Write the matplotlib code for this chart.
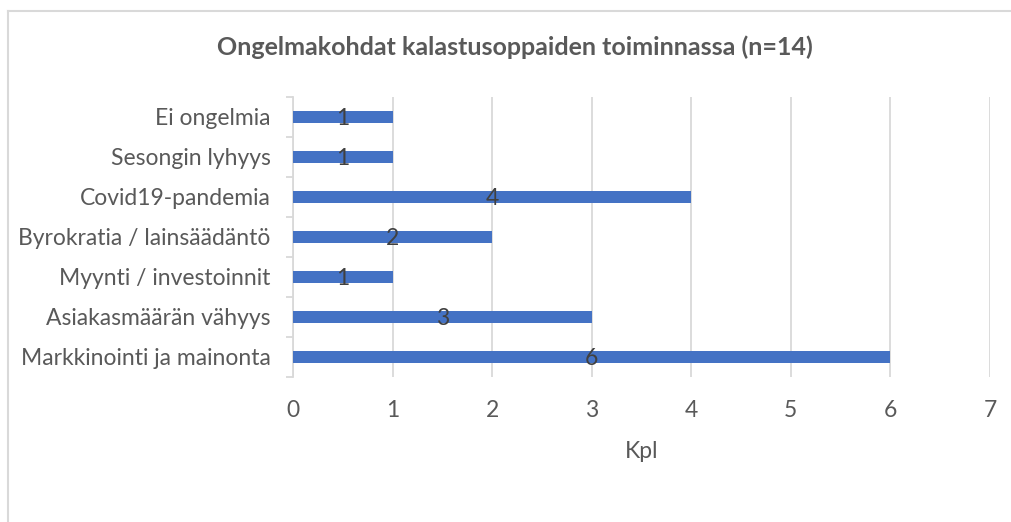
import matplotlib.pyplot as plt
from matplotlib.lines import Line2D

# 数据
kategoriat = ['Markkinointi ja mainonta', 'Asiakasmäärän vähyys', 'Myynti / investoinnit',
              'Byrokratia / lainsäädäntö', 'Covid19-pandemia', 'Sesongin lyhyys', 'Ei ongelmia']
arvot = [6, 3, 1, 2, 4, 1, 1]
x_ticks = [0, 1, 2, 3, 4, 5, 6, 7]
otsikko = 'Ongelmakohdat kalastusoppaiden toiminnassa (n=14)'
x_otsikko = 'Kpl'

plt.rcParams['font.family'] = ['Lato', 'DejaVu Sans']

fig = plt.figure(figsize=(10.11, 5.22), dpi=100)
ax = fig.add_axes([293 / 1011, 1 - 376.5 / 522, 697 / 1011, 280 / 522])

y = range(len(kategoriat))
ax.barh(y, arvot, height=0.3, color='#4472C4', zorder=3)

# 数据标签
for i, v in zip(y, arvot):
    ax.text(v / 2, i - 0.05, str(v), ha='center', va='center', fontsize=16.5, color='#404040', zorder=4)

ax.set_xlim(0, 7)
ax.set_ylim(-0.5, len(kategoriat) - 0.5)
ax.set_xticks(x_ticks)
ax.set_yticks(list(y))
ax.set_yticklabels(kategoriat)
ax.set_yticks([i - 0.5 for i in range(len(kategoriat) + 1)], minor=True)

ax.tick_params(axis='y', which='major', length=0, pad=16, labelsize=16.5, labelcolor='#595959')
ax.tick_params(axis='y', which='minor', length=5, width=1.3, color='#D9D9D9')
ax.tick_params(axis='x', length=0, pad=17, labelsize=16.5, labelcolor='#595959')

ax.grid(axis='x', color='#D9D9D9', lw=1.3, zorder=0)
for s in ['top', 'right', 'bottom']:
    ax.spines[s].set_visible(False)
ax.spines['left'].set_color('#D9D9D9')
ax.spines['left'].set_linewidth(1.3)

ax.set_xlabel(x_otsikko, fontsize=16.5, color='#595959', labelpad=14)
fig.text(515 / 1011, 1 - 47 / 522, otsikko, ha='center', va='center',
         fontsize=18, fontweight='bold', color='#595959')

# 外框
fig.add_artist(Line2D([7.5 / 1011, 7.5 / 1011], [0, 1 - 11 / 522], transform=fig.transFigure, color='#D9D9D9', lw=1.5))
fig.add_artist(Line2D([7.5 / 1011, 1], [1 - 11 / 522, 1 - 11 / 522], transform=fig.transFigure, color='#D9D9D9', lw=1.5))

fig.savefig('out.png', dpi=100)
